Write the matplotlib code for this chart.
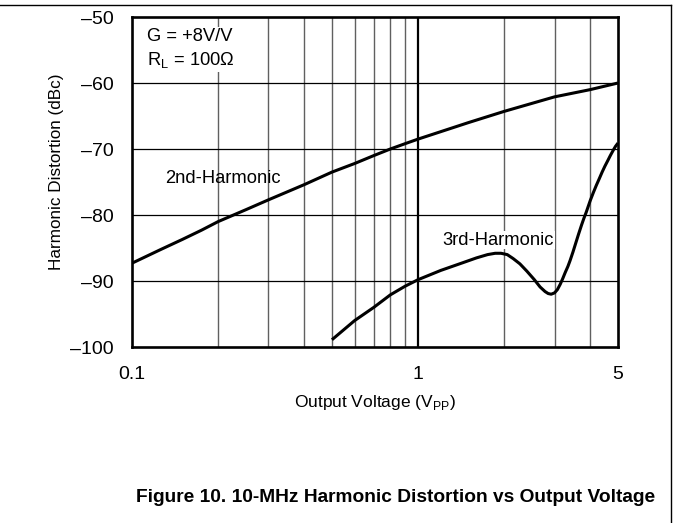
import numpy as np
import matplotlib
matplotlib.use("Agg")
import matplotlib.pyplot as plt
from matplotlib.lines import Line2D

plt.rcParams["font.family"] = ["Liberation Sans", "DejaVu Sans"]

# values
h2_v = [0.1, 0.125, 0.15, 0.175, 0.2, 0.25, 0.3, 0.4, 0.5, 0.6, 0.7, 0.8,
        0.9, 1.0, 1.5, 2.0, 3.0, 4.0, 5.0]
h2_db = [-87.3, -85.3, -83.7, -82.3, -81.0, -79.2, -77.7, -75.4, -73.5,
         -72.2, -71.0, -70.0, -69.2, -68.5, -66.0, -64.3, -62.1, -61.0,
         -60.0]

h3_v = [0.5, 0.6, 0.7, 0.8, 0.9, 1.0, 1.2, 1.44, 1.6, 1.75, 1.86, 1.95,
        2.05, 2.15, 2.27, 2.4, 2.55, 2.67, 2.78, 2.85, 2.92, 3.0, 3.07,
        3.14, 3.2, 3.27, 3.34, 3.4, 3.48, 3.55, 3.64, 3.73, 3.8, 3.87,
        4.0, 4.1, 4.2, 4.3, 4.4, 4.5, 4.6, 4.7, 4.81, 4.9, 5.0]
h3_db = [-98.9, -96.0, -94.0, -92.1, -90.8, -89.8, -88.4, -87.2, -86.5,
         -86.0, -85.8, -85.8, -86.0, -86.6, -87.4, -88.5, -89.8, -90.9,
         -91.6, -91.9, -92.0, -91.8, -91.3, -90.5, -89.7, -88.7, -87.8,
         -86.9, -85.6, -84.4, -82.9, -81.5, -80.5, -79.6, -77.8, -76.6,
         -75.5, -74.5, -73.5, -72.6, -71.8, -71.0, -70.2, -69.6, -69.1]

x_ticks = [0.1, 1, 5]
x_ticklabels = ["0.1", "1", "5"]
x_grid = [0.2, 0.3, 0.4, 0.5, 0.6, 0.7, 0.8, 0.9, 2, 3, 4]
y_ticks = [-100, -90, -80, -70, -60, -50]
y_ticklabels = ["\u2013100", "\u201390", "\u201380", "\u201370", "\u201360", "\u201350"]

fig = plt.figure(figsize=(6.73, 5.23), dpi=100)
ax = fig.add_axes([132 / 673, 1 - 347 / 523, 486 / 673, 330 / 523])

for xv in x_grid:
    ax.axvline(xv, color="#606060", lw=1.0, zorder=1)
ax.axvline(1, color="black", lw=1.6, zorder=1)
for yv in y_ticks[1:-1]:
    ax.axhline(yv, color="black", lw=0.9, zorder=1)

ax.plot(h2_v, h2_db, color="black", lw=2.2, zorder=3, solid_capstyle="butt",
        solid_joinstyle="round")
ax.plot(h3_v, h3_db, color="black", lw=2.2, zorder=3, solid_capstyle="butt",
        solid_joinstyle="round")

ax.set_xscale("log")
ax.set_xlim(0.1, 5)
ax.set_ylim(-100, -50)
ax.set_xticks(x_ticks)
ax.set_xticklabels(x_ticklabels)
ax.xaxis.set_minor_locator(matplotlib.ticker.NullLocator())
ax.set_yticks(y_ticks)
ax.set_yticklabels(y_ticklabels)
ax.tick_params(length=0, labelsize=14)
ax.tick_params(axis="y", pad=13)
ax.tick_params(axis="x", pad=14)
for s in ax.spines.values():
    s.set_linewidth(1.9)

ax.set_xlabel("Output Voltage (V$_{\\mathregular{PP}}$)", fontsize=12.5)
ax.set_ylabel("Harmonic Distortion (dBc)", fontsize=12.3)
ax.xaxis.set_label_coords((375 - 132) / 486, -(403 - 347) / 330)
ax.yaxis.set_label_coords(-(132 - 57) / 486, (347 - 172) / 330)
ax.xaxis.label.set_va("center")
ax.yaxis.label.set_va("center")

ax.text(0.1128, -54.8, "G = +8V/V\nR$_\\mathregular{L}$ = 100\u03a9", fontsize=13.2,
        va="center", ha="left", linespacing=1.35, zorder=4,
        bbox=dict(facecolor="white", edgecolor="none", pad=1.5))
ax.text(0.208, -74.5, "2nd-Harmonic", fontsize=13.2, ha="center", va="center",
        zorder=4)
ax.text(1.905, -83.8, "3rd-Harmonic", fontsize=13.2, ha="center", va="center",
        zorder=4, bbox=dict(facecolor="white", edgecolor="none", pad=0.5))

fig.text(655 / 673, 1 - 498 / 523,
         "Figure 10. 10-MHz Harmonic Distortion vs Output Voltage",
         fontsize=13.8, fontweight="bold", ha="right", va="center")

fig.add_artist(Line2D([0, 671 / 673], [1 - 5 / 523, 1 - 5 / 523],
                      color="black", lw=1.0, transform=fig.transFigure))
fig.add_artist(Line2D([671 / 673, 671 / 673], [1 - 5 / 523, 0],
                      color="black", lw=1.0, transform=fig.transFigure))

fig.savefig("out.png", dpi=100)
